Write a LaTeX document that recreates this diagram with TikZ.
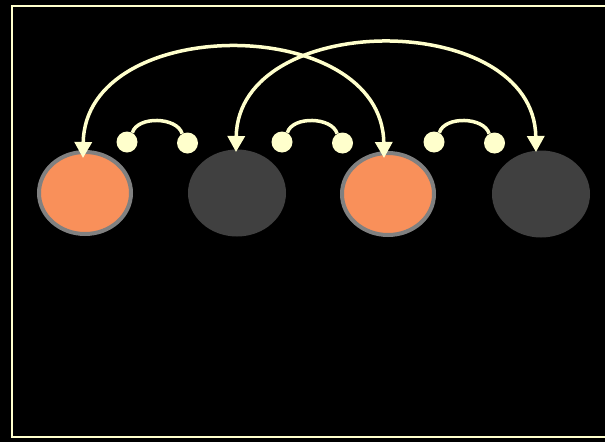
\documentclass[tikz,border=0pt]{standalone}
\usepackage{xcolor}
\usetikzlibrary{shapes.geometric,arrows.meta}

\definecolor{cream}{HTML}{FFFFCC}
\definecolor{peach}{HTML}{F9905A}
\definecolor{darkdisc}{HTML}{404040}
\definecolor{rimgray}{HTML}{808080}

\tikzset{
    hotsite/.style={ellipse, fill=peach, draw=rimgray, line width=4pt,
        minimum width=92pt, minimum height=82pt, inner sep=0pt},
    coldsite/.style={ellipse, fill=darkdisc,
        minimum width=98pt, minimum height=87pt, inner sep=0pt},
    blob/.style={circle, fill=cream, minimum size=21pt, inner sep=0pt},
    hop/.style={cream, line width=3.5pt},
    jump/.style={cream, line width=3.5pt,
        {Triangle[length=16pt,width=17pt]}-{Triangle[length=16pt,width=17pt]}}
}

\begin{document}
\begin{tikzpicture}[x=1pt,y=-1pt]
    % ===== Background and frame =====
    \fill[black] (0,0) rectangle (605,442);
    \useasboundingbox (0,0) rectangle (605,442);
    \draw[cream, line width=2pt] (608,6) -- (12,6) -- (12,437) -- (608,437);

    % ===== Sites =====
    \node[hotsite]  (s1) at (85,193)  {};
    \node[coldsite] (s2) at (237,193) {};
    \node[hotsite]  (s3) at (388,194) {};
    \node[coldsite] (s4) at (541,194) {};

    % ===== Short hops (dumbbells) =====
    \foreach \n/\x in {1/127,2/282,3/434} {
        \node[blob] (l\n) at (\x,142) {};
        \node[blob] (r\n) at (\x+60.5,143) {};
        \draw[hop] (l\n.60) .. controls ([shift={(5,-17)}]l\n.60)
            and ([shift={(-5,-17)}]r\n.120) .. (r\n.120);
    }

    % ===== Long jumps =====
    \coordinate (t1) at (83,158);
    \coordinate (t2) at (236,152);
    \coordinate (t3) at (384,158);
    \coordinate (t4) at (536,152);
    \draw[jump] (t1) .. controls (85,13) and (382,13) .. (t3);
    \draw[jump] (t2) .. controls (238,9) and (534,9) .. (t4);
\end{tikzpicture}
\end{document}
